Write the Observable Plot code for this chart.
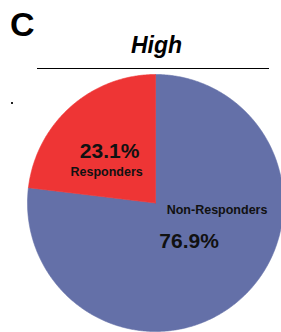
<!DOCTYPE html>
<html>
<head>
<meta charset="utf-8">
<script src="https://cdn.jsdelivr.net/npm/d3@7"></script>
<script src="https://cdn.jsdelivr.net/npm/@observablehq/plot@0.6"></script>
<style>
  html, body { margin: 0; padding: 0; background: #fff; }
  #wrap { position: relative; width: 281px; height: 332px; overflow: hidden; font-family: "Liberation Sans", Arial, sans-serif; }
  #panel { position: absolute; left: 10px; top: 7px; font-size: 34px; font-weight: bold; line-height: 34px; color: #000; }
  #title { position: absolute; left: 0; width: 313px; text-align: center; top: 33.5px; font-size: 23px; font-weight: bold; font-style: italic; line-height: 23px; color: #000; }
  #rule { position: absolute; left: 37px; width: 232px; top: 67.5px; height: 0; border-top: 1.3px solid #000; }
  #dot { position: absolute; left: 10.5px; top: 101.5px; width: 2px; height: 2px; background: #222; }
  #chart { position: absolute; left: 0; top: 0; }
</style>
</head>
<body>
<div id="wrap">
  <div id="chart"></div>
  <div id="panel">C</div>
  <div id="title">High</div>
  <div id="rule"></div>
  <div id="dot"></div>
</div>
<script>
// Data
const categories = ["Non-Responders", "Responders"];
const percents = [76.9, 23.1];
const colors = ["#6470A8", "#EE3535"];

// Build table
const table = categories.map((c, i) => ({category: c, value: percents[i]}));
const arcs = d3.pie().sort(null).value(d => d.value)(table);

// Slice outlines (polar -> cartesian, unit radius, y up)
const slicePts = [];
for (const a of arcs) {
  const cat = a.data.category;
  slicePts.push({category: cat, x: 0, y: 0});
  const n = Math.max(2, Math.ceil((a.endAngle - a.startAngle) / (Math.PI / 360)));
  for (let k = 0; k <= n; k++) {
    const t = a.startAngle + (a.endAngle - a.startAngle) * k / n;
    slicePts.push({category: cat, x: Math.sin(t), y: Math.cos(t)});
  }
  slicePts.push({category: cat, x: 0, y: 0});
}

// Label anchor radius along each slice's mid-angle
const labelRadius = {"Non-Responders": 0.395, "Responders": 0.54};
const labels = arcs.map(a => {
  const m = (a.startAngle + a.endAngle) / 2;
  const r = labelRadius[a.data.category];
  return {category: a.data.category, pct: a.data.value.toFixed(1) + "%", x: r * Math.sin(m), y: r * Math.cos(m)};
});
const nameOffset = {"Non-Responders": {dx: 28, dy: -31}, "Responders": {dx: -3, dy: 21}};
const pctOffset = {"Non-Responders": {dx: 0, dy: 0}, "Responders": {dx: 0, dy: 0}};

const plot = Plot.plot({
  width: 281,
  height: 332,
  margin: 0,
  x: {domain: [-1, 1], range: [27, 283], axis: null},
  y: {domain: [-1, 1], range: [331, 74], axis: null},
  color: {domain: categories, range: colors},
  style: {background: "transparent", overflow: "visible"},
  marks: [
    Plot.line(slicePts, {x: "x", y: "y", z: "category", fill: "category", stroke: "category", strokeWidth: 0.6, curve: "linear"}),
    ...labels.map(l => Plot.text([l], {x: "x", y: "y", text: "pct", fontSize: 21, fontWeight: "bold", fill: "#111", textAnchor: "middle", lineAnchor: "middle", dx: pctOffset[l.category].dx, dy: pctOffset[l.category].dy, fontFamily: "Liberation Sans, Arial, sans-serif"})),
    ...labels.map(l => Plot.text([l], {x: "x", y: "y", text: "category", fontSize: 12.5, fontWeight: "bold", fill: "#111", textAnchor: "middle", lineAnchor: "middle", dx: nameOffset[l.category].dx, dy: nameOffset[l.category].dy, fontFamily: "Liberation Sans, Arial, sans-serif"}))
  ]
});
document.getElementById("chart").appendChild(plot);
</script>
</body>
</html>
